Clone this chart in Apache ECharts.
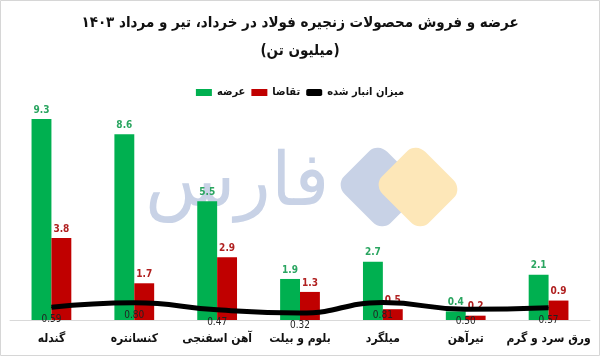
<!DOCTYPE html>
<html><head><meta charset="utf-8">
<script src="https://cdn.jsdelivr.net/npm/echarts@6/dist/echarts.min.js"></script>
<style>html,body{margin:0;padding:0;background:#fff}#c{width:600px;height:356px}</style>
</head><body><div id="c"></div>
<script>
const categories = ['گندله','کنسانتره','آهن اسفنجی','بلوم و بیلت','میلگرد','تیرآهن','ورق سرد و گرم'];
const supply = [9.3, 8.6, 5.5, 1.9, 2.7, 0.4, 2.1];
const demand = [3.8, 1.7, 2.9, 1.3, 0.5, 0.2, 0.9];
const stock = [0.59, 0.80, 0.47, 0.32, 0.81, 0.50, 0.57];
const seriesNames = ['عرضه','تقاضا','میزان انبار شده'];
const titleLines = ['عرضه و فروش محصولات زنجیره فولاد در خرداد، تیر و مرداد ۱۴۰۳','(میلیون تن)'];

const FONT = '"DejaVu Sans Condensed", "DejaVu Sans", sans-serif';
const chart = echarts.init(document.getElementById('c'), null, {renderer:'canvas'});
chart.setOption({
  animation:false,
  backgroundColor:'#fff',
  textStyle:{fontFamily:FONT},
  title:{
    text: titleLines.join('\n'),
    left:'center', top:4,
    textStyle:{fontFamily:FONT, fontSize:15, fontWeight:'bold', color:'#111', lineHeight:28}
  },
  legend:{
    top:82, left:'center',
    itemWidth:16, itemHeight:7, itemGap:6,
    textStyle:{fontFamily:FONT, fontSize:11, fontWeight:'bold', color:'#111'},
    data:[
      {name:seriesNames[0], icon:'rect'},
      {name:seriesNames[1], icon:'rect'},
      {name:seriesNames[2], icon:'roundRect'}
    ]
  },
  graphic:[
    {type:'rect', z:-20, silent:true, shape:{x:0.5,y:0.5,width:599,height:355}, style:{fill:null, stroke:'#d6d6d6', lineWidth:1}},
    {type:'text', z:-10, silent:true, x:237, y:186, style:{text:'فارس', font:'normal 74px "DejaVu Serif"', fill:'#c8d2e6', align:'center', verticalAlign:'middle'}},
    {type:'rect', z:-10, silent:true, rotation:Math.PI/4, scaleY:1.1,
      shape:{x:-30,y:-30,width:60,height:60,r:12}, style:{fill:'#c8d2e6'}, x:380, y:187},
    {type:'rect', z:-9, silent:true, rotation:Math.PI/4, scaleY:1.1,
      shape:{x:-30,y:-30,width:60,height:60,r:12}, style:{fill:'#fde7b8'}, x:418, y:187}
  ],
  grid:{left:10, right:10, top:104, bottom:36},
  xAxis:{
    type:'category', data:categories,
    axisLine:{lineStyle:{color:'#d9d9d9'}},
    axisTick:{show:false},
    axisLabel:{interval:0, fontFamily:FONT, fontSize:12, fontWeight:'bold', color:'#111', margin:13}
  },
  yAxis:{type:'value', min:0, max:10, show:false, splitLine:{show:false}},
  series:[
    {name:seriesNames[0], type:'bar', data:supply, barGap:'0%', barCategoryGap:'52%',
      itemStyle:{color:'#00b050'},
      label:{show:true, position:'top', distance:4, fontSize:10, fontWeight:'bold', color:'#2aa560', formatter:p=>p.value.toFixed(1)}},
    {name:seriesNames[1], type:'bar', data:demand,
      itemStyle:{color:'#c00000'},
      label:{show:true, position:'top', distance:4, fontSize:10, fontWeight:'bold', color:'#b02020', formatter:p=>p.value.toFixed(1)}},
    {name:seriesNames[2], type:'line', data:stock, smooth:true, showSymbol:true, symbol:'circle', symbolSize:1,
      lineStyle:{color:'#000', width:5}, itemStyle:{color:'#000'}, z:5,
      labelLayout:{hideOverlap:false},
      label:{show:true, position:'bottom', distance:7, fontSize:10, color:'#222', formatter:p=>p.value.toFixed(2)}}
  ]
});
</script></body></html>
